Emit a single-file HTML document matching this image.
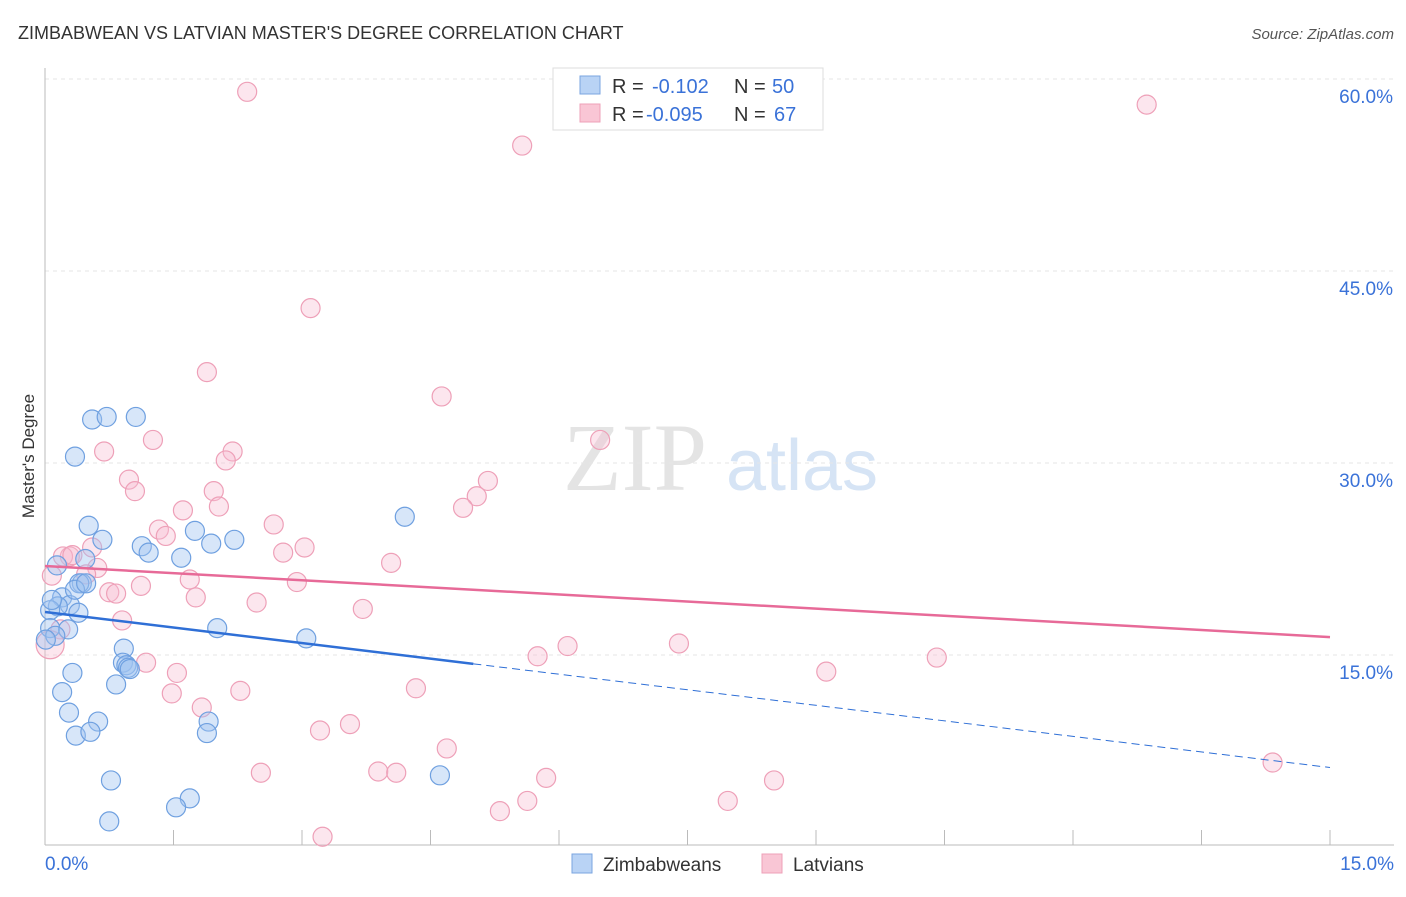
<!DOCTYPE html>
<html><head><meta charset="utf-8"><style>
body{margin:0;background:#fff;font-family:"Liberation Sans",sans-serif}
</style></head><body>
<svg width="1406" height="892" xmlns="http://www.w3.org/2000/svg">
<text x="18" y="39" font-size="18" fill="#333">ZIMBABWEAN VS LATVIAN MASTER'S DEGREE CORRELATION CHART</text>
<text x="1394" y="39" font-size="15" fill="#555" font-style="italic" text-anchor="end">Source: ZipAtlas.com</text>
<text x="34" y="456" font-size="17" fill="#333" text-anchor="middle" transform="rotate(-90 34 456)">Master's Degree</text>
<g>
<text x="635" y="490" font-size="96" font-family="Liberation Serif,serif" fill="#e4e4e4" text-anchor="middle">ZIP</text>
<text x="802" y="490" font-size="72" fill="#d6e4f5" text-anchor="middle">atlas</text>
</g>
<g id="grid"></g><g id="axes"></g><g id="pts"></g><g id="lines"></g>
<g>
<rect x="553" y="68" width="270" height="62" fill="#fff" stroke="#ddd"/>
<rect x="580" y="76" width="20" height="18" fill="#b9d3f5" stroke="#7aa5e0"/>
<rect x="580" y="104" width="20" height="18" fill="#f9c6d5" stroke="#eea0b8"/>
<text x="612" y="93" font-size="20" fill="#333">R = <tspan x="652" fill="#3a72d8">-0.102</tspan><tspan x="734">N = </tspan><tspan x="772" fill="#3a72d8">50</tspan></text>
<text x="612" y="121" font-size="20" fill="#333">R = <tspan x="646" fill="#3a72d8">-0.095</tspan><tspan x="734">N = </tspan><tspan x="774" fill="#3a72d8">67</tspan></text>
</g>
<g>
<rect x="572" y="854" width="20" height="19" fill="#b9d3f5" stroke="#7aa5e0"/>
<text x="603" y="871" font-size="19" fill="#333">Zimbabweans</text>
<rect x="762" y="854" width="20" height="19" fill="#f9c6d5" stroke="#eea0b8"/>
<text x="793" y="871" font-size="19" fill="#333">Latvians</text>
</g>
</svg>
<script>
const yTicks=[15,30,45,60];
const yTickLabels=["15.0%","30.0%","45.0%","60.0%"];
const blueX=[0.55,0.72,1.06,0.35,0.51,0.67,1.13,1.21,1.59,1.75,1.94,2.21,4.20,0.14,0.47,0.43,0.40,0.20,0.29,0.15,0.06,0.39,0.06,0.27,0.12,3.05,2.01,0.92,0.91,0.95,0.97,0.99,0.83,0.32,0.20,0.28,0.62,0.36,0.53,1.91,1.89,0.77,4.61,1.69,1.53,0.75,0.01,0.08,0.35,0.48];
const blueY=[33.4,33.6,33.6,30.5,25.1,24.0,23.5,23.0,22.6,24.7,23.7,24.0,25.8,22.0,22.5,20.6,20.6,19.5,18.9,18.8,18.5,18.3,17.1,17.0,16.5,16.3,17.1,15.5,14.4,14.2,14.0,13.9,12.7,13.6,12.1,10.5,9.8,8.7,9.0,9.8,8.9,5.2,5.6,3.8,3.1,2.0,16.2,19.3,20.1,20.6];
const pinkX=[2.36,12.86,5.57,3.10,1.89,4.63,1.26,6.48,0.69,2.19,2.11,0.98,5.17,1.05,1.97,5.04,1.61,4.88,2.03,1.33,1.41,2.67,0.55,3.03,0.29,0.21,0.32,2.78,4.04,0.61,0.48,1.69,2.94,1.12,0.75,0.83,1.76,2.47,3.71,0.90,0.18,0.06,7.40,6.10,5.75,1.18,10.41,9.12,1.54,1.48,2.28,4.33,1.83,3.56,3.21,4.69,2.52,3.89,4.10,5.85,8.51,14.33,5.63,7.97,5.31,3.24,0.08];
const pinkY=[59.0,58.0,54.8,42.1,37.1,35.2,31.8,31.8,30.9,30.9,30.2,28.7,28.6,27.8,27.8,27.4,26.3,26.5,26.6,24.8,24.3,25.2,23.4,23.4,22.7,22.7,22.8,23.0,22.2,21.8,21.3,20.9,20.7,20.4,19.9,19.8,19.5,19.1,18.6,17.7,17.0,15.8,15.9,15.7,14.9,14.4,14.8,13.7,13.6,12.0,12.2,12.4,10.9,9.6,9.1,7.7,5.8,5.9,5.8,5.4,5.2,6.6,3.6,3.6,2.8,0.8,21.2];
const blueFit=[18.36,-0.81]; // intercept, slope
const pinkFit=[21.95,-0.37];
const NS="http://www.w3.org/2000/svg";
const xs=v=>45+v/15*1285, ys=v=>847-v/15*192;
function mk(t,a,p){const e=document.createElementNS(NS,t);for(const k in a)e.setAttribute(k,a[k]);document.getElementById(p).appendChild(e);return e;}
yTicks.forEach((t,i)=>{
 const l=mk('line',{x1:45,x2:1394,y1:ys(t),y2:ys(t),stroke:'#e6e6e6','stroke-dasharray':'4,4'},'grid');
 
 
 const tx=mk('text',{x:1393,y:ys(t)+24,'font-size':19,fill:'#3a72d8','text-anchor':'end'},'grid');
 tx.textContent=yTickLabels[i];
 
 
});
let a=mk('line',{x1:45,x2:45,y1:68,y2:845,stroke:'#bbb'},'axes');


a=mk('line',{x1:45,x2:1394,y1:845,y2:845,stroke:'#bbb'},'axes');


for(let i=1;i<=10;i++){const t=mk('line',{x1:xs(i*1.5),x2:xs(i*1.5),y1:830,y2:845,stroke:'#bbb'},'axes');
 
 }
[[0,"0.0%",45,'start'],[15,"15.0%",1394,'end']].forEach(d=>{const t=mk('text',{x:d[2],y:870,'font-size':19,fill:'#3a72d8','text-anchor':d[3]},'axes');t.textContent=d[1];
 
 });
pinkX.forEach((x,i)=>{const c=mk('circle',{cx:xs(x),cy:ys(pinkY[i]),r:(i==41)?14:9.5,fill:'rgba(248,190,210,0.38)',stroke:'#eea0b8','stroke-width':1.2},'pts');
 
 });
blueX.forEach((x,i)=>{const c=mk('circle',{cx:xs(x),cy:ys(blueY[i]),r:9.5,fill:'rgba(160,196,240,0.42)',stroke:'#6fa0e0','stroke-width':1.2},'pts');
 
 });
let l=mk('line',{x1:xs(0),y1:ys(blueFit[0]),x2:xs(5),y2:ys(blueFit[0]+5*blueFit[1]),stroke:'#2f6fd6','stroke-width':2.5},'lines');


l=mk('line',{x1:xs(5),y1:ys(blueFit[0]+5*blueFit[1]),x2:xs(15),y2:ys(blueFit[0]+15*blueFit[1]),stroke:'#2f6fd6','stroke-width':1,'stroke-dasharray':'8,5'},'lines');


l=mk('line',{x1:xs(0),y1:ys(pinkFit[0]),x2:xs(15),y2:ys(pinkFit[0]+15*pinkFit[1]),stroke:'#e76a98','stroke-width':2.5},'lines');


</script>
</body></html>
